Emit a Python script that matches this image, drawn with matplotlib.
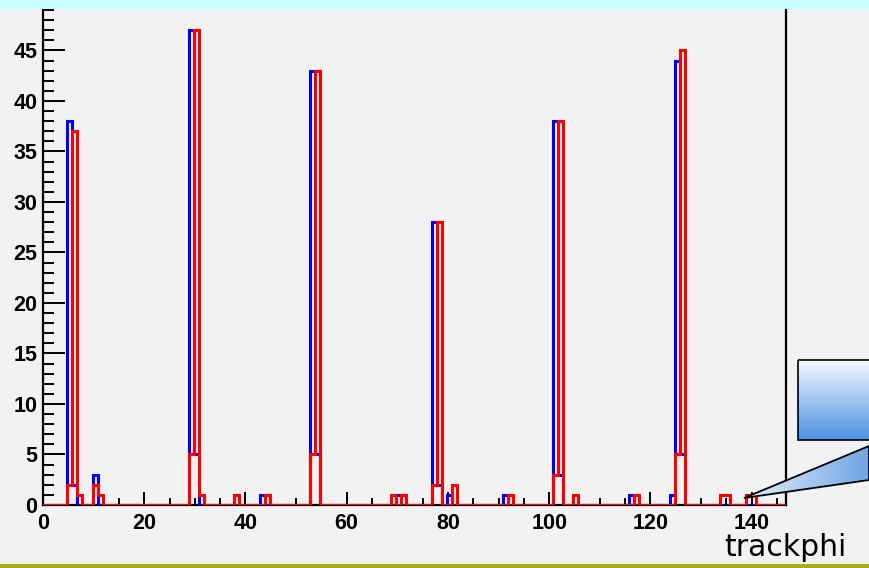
import numpy as np
import matplotlib
matplotlib.use("Agg")
import matplotlib.pyplot as plt
from matplotlib.patches import Rectangle, Polygon
from matplotlib.colors import LinearSegmentedColormap
from matplotlib.ticker import MultipleLocator

# ---- data (histogram bins of width 1, first edge at -0.2) ----
n_bins = 147
first_edge = -0.2
bin_width = 1.0

blue_bins = [5, 6, 10, 29, 30, 43, 53, 54, 70, 77, 78, 80, 91, 101, 102, 116, 124, 125, 126]
blue_counts = [38, 2, 3, 47, 5, 1, 43, 5, 1, 28, 2, 1, 1, 38, 3, 1, 1, 44, 5]

red_bins = [5, 6, 7, 10, 11, 29, 30, 31, 38, 44, 53, 54, 69, 71, 77, 78, 81, 92,
            101, 102, 105, 117, 125, 126, 134, 135, 139, 140]
red_counts = [2, 37, 1, 2, 1, 5, 47, 1, 1, 1, 5, 43, 1, 1, 2, 28, 2, 1,
              3, 38, 1, 1, 5, 45, 1, 1, 1, 1]

x_ticks = [0, 20, 40, 60, 80, 100, 120, 140]
y_ticks = [0, 5, 10, 15, 20, 25, 30, 35, 40, 45]
x_label = "trackphi"

edges = first_edge + bin_width * np.arange(n_bins + 1)
blue = np.zeros(n_bins)
blue[blue_bins] = blue_counts
red = np.zeros(n_bins)
red[red_bins] = red_counts

W, H = 869, 568
fig = plt.figure(figsize=(W / 100, H / 100), dpi=100)
fig.patch.set_facecolor("#f2f2f2")

# slide decorations
fig.patches.append(Rectangle((0, 1 - 9 / H), 1, 9 / H, transform=fig.transFigure,
                             facecolor="#c8ffff", edgecolor="none", zorder=0))
fig.patches.append(Rectangle((0, 0), 1, 4 / H, transform=fig.transFigure,
                             facecolor="#abab12", edgecolor="none", zorder=0))

ax = fig.add_axes([43 / W, 63 / H, 743 / W, 496 / H])
ax.set_facecolor("#f2f2f2")
ax.set_xlim(0, 146.8)
ax.set_ylim(0, 49.1)

ax.stairs(blue, edges, color="#0000ff", lw=2.2, zorder=3)
ax.stairs(red, edges, color="#ff0000", lw=2.2, zorder=4)

ax.spines["top"].set_visible(False)
for s in ["left", "right", "bottom"]:
    ax.spines[s].set_color("black")
    ax.spines[s].set_linewidth(1.6)

ax.set_xticks(x_ticks)
ax.set_yticks(y_ticks)
ax.xaxis.set_minor_locator(MultipleLocator(5))
ax.yaxis.set_minor_locator(MultipleLocator(1))
ax.tick_params(axis="y", which="major", direction="in", length=16, width=1.4,
               pad=4, labelsize=15.5)
ax.tick_params(axis="y", which="minor", direction="in", length=8, width=1.4)
ax.tick_params(axis="x", which="major", direction="in", length=9.5, width=1.4,
               pad=6, labelsize=15.5)
ax.tick_params(axis="x", which="minor", direction="in", length=5, width=1.4)
for lab in ax.get_xticklabels() + ax.get_yticklabels():
    lab.set_fontfamily(["Liberation Sans", "DejaVu Sans"])
    lab.set_fontweight("bold")

fig.text(724 / W, 1 - 556 / H, x_label, fontsize=21.5, va="baseline", ha="left",
         family=["DejaVu Sans"], color="black")

# callout overlay
ov = fig.add_axes([0, 0, 1, 1], zorder=10)
ov.set_xlim(0, W)
ov.set_ylim(H, 0)
ov.axis("off")
ov.patch.set_alpha(0)

box_cmap = LinearSegmentedColormap.from_list("box", ["#f6f9ff", "#4a92e2"])
ov.imshow(np.linspace(0, 1, 200).reshape(-1, 1), extent=(798, 880, 440, 360),
          cmap=box_cmap, aspect="auto", zorder=1)
ov.add_patch(Rectangle((798, 360), 82, 80, fill=False, edgecolor="black", lw=1.2, zorder=2))

ptr_cmap = LinearSegmentedColormap.from_list("ptr", ["#e4eefa", "#6fa6e4"])
tri = Polygon([(744, 498), (869, 446), (869, 480)], closed=True,
              facecolor="none", edgecolor="black", lw=1.3, zorder=3)
img = ov.imshow(np.linspace(0, 1, 200).reshape(1, -1), extent=(744, 869, 500, 444),
                cmap=ptr_cmap, aspect="auto", zorder=2)
ov.add_patch(tri)
img.set_clip_path(tri)
ov.set_xlim(0, W)
ov.set_ylim(H, 0)

fig.savefig("out.png", dpi=100, facecolor=fig.get_facecolor())
